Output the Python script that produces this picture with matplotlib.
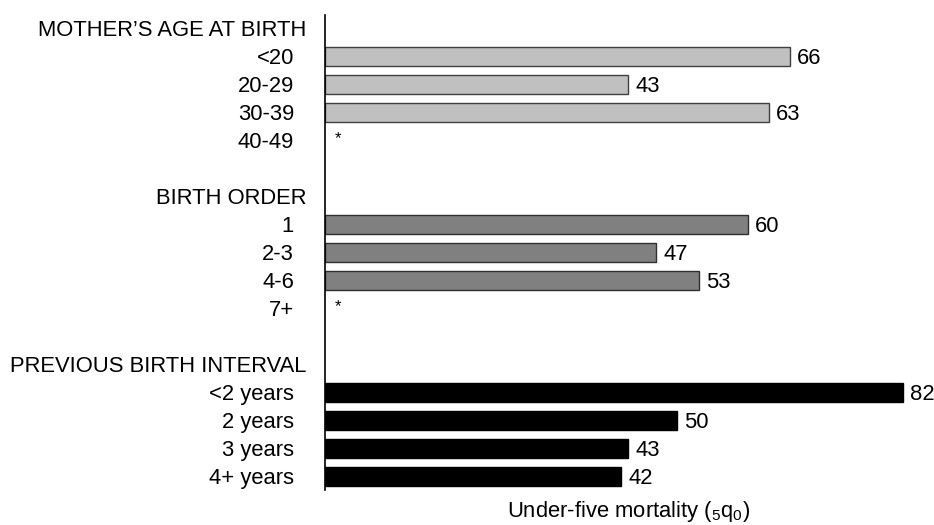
import numpy as np
import matplotlib.pyplot as plt
from matplotlib.transforms import blended_transform_factory, ScaledTranslation

plt.rcParams['font.family'] = ['Liberation Sans', 'DejaVu Sans']
plt.rcParams['mathtext.fontset'] = 'custom'
plt.rcParams['mathtext.rm'] = 'Liberation Sans'
plt.rcParams['mathtext.it'] = 'Liberation Sans'

groups = ["MOTHER\u2019S AGE AT BIRTH", "BIRTH ORDER", "PREVIOUS BIRTH INTERVAL"]
age_labels = ["<20", "20-29", "30-39", "40-49"]
age_values = [66, 43, 63, None]
order_labels = ["1", "2-3", "4-6", "7+"]
order_values = [60, 47, 53, None]
interval_labels = ["<2 years", "2 years", "3 years", "4+ years"]
interval_values = [82, 50, 43, 42]

fills = ["#c0c0c0", "#808080", "#000000"]
edges = ["#404040", "#303030", "#000000"]
FS = 15.8

fig = plt.figure(figsize=(9.34, 5.25), dpi=100)
ax = fig.add_axes([325 / 934, 1 - 490 / 525, 609 / 934, 475 / 525])

sub = [(age_labels, age_values), (order_labels, order_values), (interval_labels, interval_values)]
trans = blended_transform_factory(ax.transAxes, ax.transData)
row = 0
for g, (labs, vals) in enumerate(sub):
    ax.text(0, row, groups[g], ha="right", va="center_baseline", fontsize=FS,
            transform=trans + ScaledTranslation(-19 / 100, 0, fig.dpi_scale_trans))
    row += 1
    for lab, v in zip(labs, vals):
        ax.text(0, row, lab, ha="right", va="center_baseline", fontsize=FS,
                transform=trans + ScaledTranslation(-31 / 100, 0, fig.dpi_scale_trans))
        if v is None:
            ax.text(1.4, row - 0.05, "*", ha="left", va="center", fontsize=12)
        else:
            ax.barh(row, v, height=0.69, color=fills[g], edgecolor=edges[g], linewidth=1)
            ax.text(v + 1.0, row, str(v), ha="left", va="center_baseline", fontsize=FS)
        row += 1
    row += 1

ax.set_xlim(0, 86.4)
ax.set_ylim(16.49, -0.482)
for s in ["top", "right", "bottom"]:
    ax.spines[s].set_visible(False)
ax.spines["left"].set_linewidth(1.2)
ax.set_xticks([])
ax.set_yticks([])

fig.text(629 / 934, 1 - 512 / 525, r"Under-five mortality ($\mathregular{_5q_0}$)", ha="center",
         va="center", fontsize=FS)

fig.savefig("out.png", dpi=100)
